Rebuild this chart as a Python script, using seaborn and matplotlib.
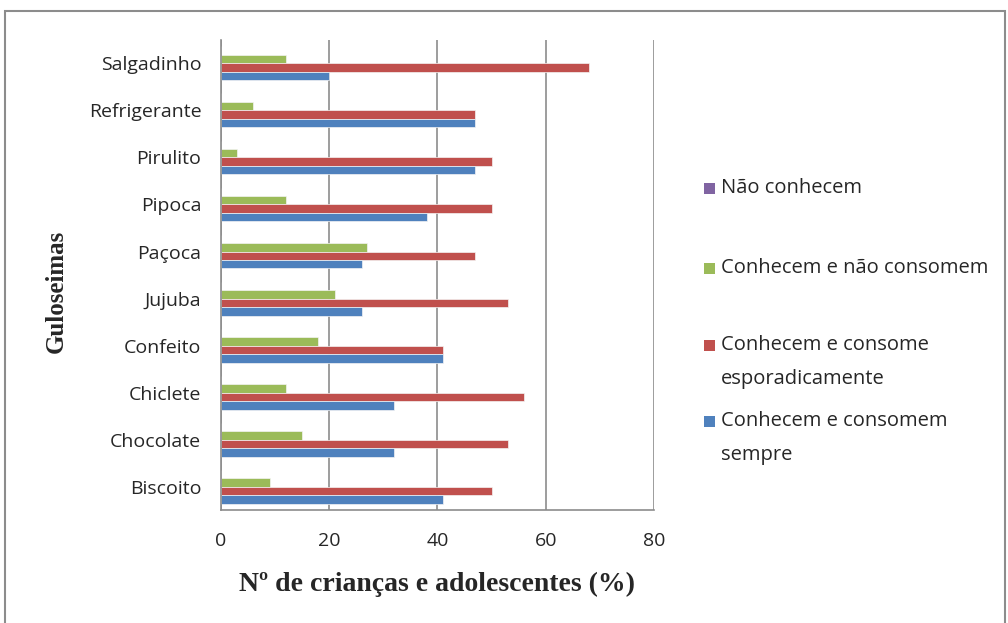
import pandas as pd
import seaborn as sns
import matplotlib.pyplot as plt
from matplotlib.patches import Rectangle
from matplotlib.ticker import FixedLocator

# Guloseimas, top to bottom as drawn
categories = ["Salgadinho", "Refrigerante", "Pirulito", "Pipoca", "Paçoca",
              "Jujuba", "Confeito", "Chiclete", "Chocolate", "Biscoito"]

nao_conhecem = [0, 0, 0, 0, 0, 0, 0, 0, 0, 0]
conhecem_nao_consomem = [12, 6, 3, 12, 27, 21, 18, 12, 15, 9]
consome_esporadicamente = [68, 47, 50, 50, 47, 53, 41, 56, 53, 50]
consomem_sempre = [20, 47, 47, 38, 26, 26, 41, 32, 32, 41]

series = ["Não conhecem",
          "Conhecem e não consomem",
          "Conhecem e consome\nesporadicamente",
          "Conhecem e consomem\nsempre"]
colors = ["#8064A2", "#9BBB59", "#C0504D", "#4F81BD"]

rows = []
for name, vals in zip(series, [nao_conhecem, conhecem_nao_consomem,
                               consome_esporadicamente, consomem_sempre]):
    for cat, v in zip(categories, vals):
        rows.append({"guloseima": cat, "serie": name, "valor": v})
df = pd.DataFrame(rows)

sns.set_style("white")
plt.rcParams["font.family"] = ["Open Sans", "DejaVu Sans"]

fig = plt.figure(figsize=(10.08, 6.23), dpi=100)
ax = fig.add_axes([0.219, 0.181, 0.430, 0.755])

sns.barplot(data=df, x="valor", y="guloseima", hue="serie",
            order=categories, hue_order=series, palette=colors,
            orient="h", width=0.72, errorbar=None, ax=ax, saturation=1,
            edgecolor="#f4f4f4", linewidth=0.5, legend=False)

ax.set_xlim(0, 80)
ax.set_ylim(len(categories) - 0.5, -0.5)
ax.set_xticks([0, 20, 40, 60, 80])
ax.xaxis.grid(True, color="#8c8c8c", linewidth=1.2)
ax.set_axisbelow(True)

for side in ["top", "right"]:
    ax.spines[side].set_visible(False)
for side in ["left", "bottom"]:
    ax.spines[side].set_color("#8c8c8c")
    ax.spines[side].set_linewidth(1.2)

ax.tick_params(axis="y", which="major", length=0, pad=14, labelsize=14, labelcolor="#262626")
ax.yaxis.set_minor_locator(FixedLocator([i - 0.5 for i in range(len(categories) + 1)]))
ax.tick_params(axis="y", which="minor", length=6, color="#8c8c8c", width=1.2)
ax.tick_params(axis="x", length=6, color="#8c8c8c", width=1.2, labelsize=14,
               pad=10, labelcolor="#262626")

ax.set_xlabel("Nº de crianças e adolescentes (%)", family="Liberation Serif",
              fontweight="bold", fontsize=20)
ax.set_ylabel("Guloseimas", family="Liberation Serif",
              fontweight="bold", fontsize=18)
ax.xaxis.set_label_coords(0.50, -0.132)
ax.yaxis.set_label_coords(-0.353, 0.466)

# legend drawn entry by entry so the square sits on the first line
legend_y = [188, 268, 345, 421]  # first-line centres, pixels from top
for name, col, ypix in zip(series, colors, legend_y):
    yf = 1 - ypix / 623
    fig.patches.append(Rectangle((704 / 1008, yf - 6 / 623), 11 / 1008, 11 / 623,
                                 transform=fig.transFigure, facecolor=col,
                                 edgecolor="none"))
    fig.text(721 / 1008, yf + 10 / 623, name, ha="left", va="top", fontsize=14.5,
             color="#262626", linespacing=1.95)

# outer chart border
fig.patches.append(Rectangle((0.005, -0.05), 0.992, 1.033, transform=fig.transFigure,
                             fill=False, edgecolor="#8c8c8c", linewidth=1.5))

plt.savefig("out.png", dpi=100)
